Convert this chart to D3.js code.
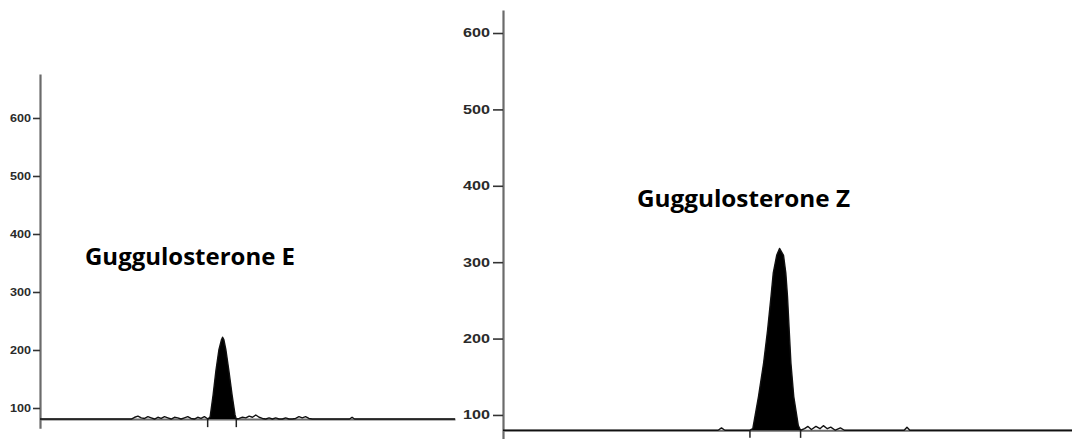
<!DOCTYPE html>
<html>
<head>
<meta charset="utf-8">
<script src="https://cdn.jsdelivr.net/npm/d3@7"></script>
<style>
  html, body { margin: 0; padding: 0; background: #fff; }
  svg { display: block; }
</style>
</head>
<body>
<svg id="chart" width="1072" height="439"></svg>
<script>
// ---------------- DATA ----------------
const yTickValues = [100, 200, 300, 400, 500, 600];

const leftTitle = "Guggulosterone E";
const leftBaseline = 81;
const leftPeakBounds = [4.04, 4.73];
const leftTime = [0, 2.20, 2.28, 2.36, 2.44, 2.52, 2.60, 2.68, 2.76, 2.84, 2.92, 3.00, 3.08, 3.16, 3.24,
  3.32, 3.40, 3.48, 3.56, 3.64, 3.72, 3.80, 3.88, 3.96,
  4.05, 4.10, 4.17, 4.24, 4.31, 4.37, 4.40, 4.43, 4.48, 4.55, 4.63, 4.70, 4.73,
  4.80, 4.88, 4.96, 5.04, 5.12, 5.20, 5.28, 5.36, 5.44, 5.52, 5.60, 5.68, 5.76, 5.84, 5.92, 6.00,
  6.08, 6.16, 6.24, 6.32, 6.40, 6.48, 6.56, 6.64, 7.46, 7.52, 7.58, 10];
const leftSignal = [81, 81, 84, 86, 83, 82, 85, 83, 81, 84, 82, 85, 83, 81, 84,
  83, 81, 83, 85, 82, 81, 84, 82, 85,
  81, 85, 122, 165, 200, 217, 222, 218, 200, 165, 122, 88, 81,
  82, 84, 83, 86, 84, 88, 84, 82, 81, 83, 81, 83, 81, 81, 83, 81,
  81, 82, 85, 83, 85, 82, 81, 81, 81, 84, 81, 81];

const rightTitle = "Guggulosterone Z";
const rightBaseline = 80;
const rightPeakBounds = [4.34, 5.23];
const rightTime = [0, 3.78, 3.84, 3.90, 4.34, 4.39, 4.49, 4.58, 4.65, 4.71, 4.75, 4.81, 4.86,
  4.93, 4.97, 5.00, 5.03, 5.06, 5.11, 5.19, 5.23,
  5.30, 5.36, 5.42, 5.50, 5.57, 5.63, 5.70, 5.76, 5.84, 5.93, 6.00, 7.05, 7.10, 7.15, 10];
const rightSignal = [80, 80, 83, 80, 80, 82, 124, 168, 211, 255, 286, 309, 318,
  309, 286, 255, 211, 168, 124, 86, 80,
  82, 85, 81, 85, 82, 86, 82, 84, 80, 83, 80, 80, 84, 80, 80];

// ---------------- DRAW ----------------
const svg = d3.select("#chart");

function panel(opts) {
  const g = svg.append("g");
  const x = d3.scaleLinear().domain([0, 10]).range(opts.xRange);
  const y = d3.scaleLinear().domain(opts.yDomain).range(opts.yRange);
  const pts = opts.time.map((t, i) => ({ t: t, v: opts.signal[i] }));

  // x axis (baseline)
  const xAxis = g.append("g")
    .attr("transform", `translate(0,${y(opts.baseline)})`)
    .call(d3.axisBottom(x).tickValues([]).tickSizeOuter(0));
  xAxis.select(".domain").attr("stroke", "#6b6b6b").attr("stroke-width", 2.2);

  // y axis
  const yAxis = g.append("g")
    .attr("transform", `translate(${opts.xRange[0]},0)`)
    .call(d3.axisLeft(y).tickValues(yTickValues)
      .tickSizeInner(opts.tickLen).tickSizeOuter(0).tickPadding(opts.tickPad));
  yAxis.select(".domain").attr("stroke", "#6b6b6b").attr("stroke-width", 2.2);
  yAxis.selectAll(".tick line").attr("stroke", "#333").attr("stroke-width", 1.6);
  yAxis.selectAll(".tick text")
    .attr("font-family", "Liberation Sans, Arial, sans-serif")
    .attr("font-weight", "bold")
    .attr("font-size", opts.labelSize)
    .attr("fill", "#2a2a2a")
    .attr("textLength", opts.labelWidth)
    .attr("lengthAdjust", "spacingAndGlyphs");

  // filled peak
  const peakPts = pts.filter(d => d.t >= opts.bounds[0] && d.t <= opts.bounds[1]);
  g.append("path")
    .datum(peakPts)
    .attr("fill", "#000")
    .attr("d", d3.area().x(d => x(d.t)).y0(y(opts.baseline)).y1(d => y(d.v)));

  // trace
  g.append("path")
    .datum(pts)
    .attr("fill", "none")
    .attr("stroke", "#111")
    .attr("stroke-width", 1.4)
    .attr("stroke-linejoin", "round")
    .attr("d", d3.line().x(d => x(d.t)).y(d => y(d.v)));

  // peak boundary markers
  g.selectAll(".bound")
    .data(opts.bounds)
    .enter().append("line")
    .attr("x1", d => x(d)).attr("x2", d => x(d))
    .attr("y1", y(opts.baseline)).attr("y2", y(opts.baseline - opts.boundDrop))
    .attr("stroke", "#222").attr("stroke-width", 1.5);

  // title
  svg.append("text")
    .attr("x", opts.titlePos[0]).attr("y", opts.titlePos[1])
    .attr("font-family", "Open Sans, Liberation Sans, sans-serif")
    .attr("font-weight", "bold")
    .attr("font-size", 24)
    .attr("fill", "#000")
    .attr("textLength", opts.titleWidth)
    .attr("lengthAdjust", "spacingAndGlyphs")
    .text(opts.title);
}

panel({
  xRange: [40, 455],
  yDomain: [65, 676], yRange: [428.3, 73.9],
  time: leftTime, signal: leftSignal, baseline: leftBaseline, bounds: leftPeakBounds,
  boundDrop: 14, tickLen: 7, tickPad: 2, labelSize: 10, labelWidth: 21,
  title: leftTitle, titlePos: [85, 265], titleWidth: 210
});

panel({
  xRange: [503, 1072],
  yDomain: [68, 630], yRange: [439.4, 10.1],
  time: rightTime, signal: rightSignal, baseline: rightBaseline, bounds: rightPeakBounds,
  boundDrop: 10, tickLen: 10, tickPad: 3, labelSize: 12, labelWidth: 27,
  title: rightTitle, titlePos: [637, 207], titleWidth: 213
});
</script>
</body>
</html>
